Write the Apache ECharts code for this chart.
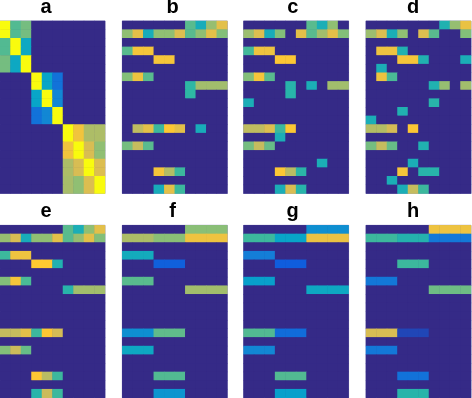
<!DOCTYPE html>
<html><head><meta charset="utf-8">
<style>html,body{margin:0;padding:0;background:#fff}#c{width:472px;height:398px}</style>
<script src="https://cdn.jsdelivr.net/npm/echarts@6/dist/echarts.min.js"></script>
</head><body><div id="c"></div>
<script>
// Each span: [row, first column, column after last, value on a 0..1 colour scale]
const panelNames = ['a','b','c','d','e','f','g','h'];
const panelA = [
 [0,0,1,1],[0,1,2,.55],[0,2,3,.6],[1,0,1,1],[1,1,2,.55],[1,2,3,.6],
 [2,0,1,.55],[2,1,2,1],[2,2,3,.4],[3,0,1,.55],[3,1,2,1],[3,2,3,.4],
 [4,0,1,.6],[4,1,2,.4],[4,2,3,1],[5,0,1,.6],[5,1,2,.4],[5,2,3,1],
 [6,3,4,1],[6,4,5,.38],[6,5,6,.2],[7,3,4,1],[7,4,5,.38],[7,5,6,.2],
 [8,3,4,.38],[8,4,5,1],[8,5,6,.27],[9,3,4,.38],[9,4,5,1],[9,5,6,.27],
 [10,3,4,.2],[10,4,5,.27],[10,5,6,1],[11,3,4,.2],[11,4,5,.27],[11,5,6,1],
 [12,6,7,1],[12,7,8,.84],[12,8,10,.69],[13,6,7,1],[13,7,8,.84],[13,8,10,.69],
 [14,6,7,.84],[14,7,8,1],[14,8,9,.77],[14,9,10,.64],[15,6,7,.84],[15,7,8,1],[15,8,9,.77],[15,9,10,.64],
 [16,6,7,.69],[16,7,8,.77],[16,8,9,1],[16,9,10,.78],[17,6,7,.69],[17,7,8,.77],[17,8,9,1],[17,9,10,.78],
 [18,6,7,.68],[18,7,8,.64],[18,8,9,.78],[18,9,10,1],[19,6,7,.68],[19,7,8,.64],[19,8,9,.78],[19,9,10,1]
];
const panelB = [
 [0,6,7,.56],[0,7,8,.43],[0,8,9,.65],[0,9,10,.8],
 [1,0,1,.64],[1,1,2,.8],[1,2,3,.43],[1,3,5,.64],[1,5,6,.78],[1,6,7,.56],[1,7,8,.64],[1,8,9,.8],[1,9,10,.62],
 [3,0,1,.56],[3,1,3,.85],[4,3,5,.85],
 [6,0,1,.62],[6,1,2,.83],[6,2,3,.56],
 [7,6,7,.5],[7,7,10,.67],[8,6,7,.5],
 [12,1,2,.72],[12,2,3,.8],[12,3,4,.52],[12,4,5,.87],[12,5,6,.8],[12,7,8,.43],
 [14,0,1,.6],[14,1,2,.73],[14,2,3,.56],
 [17,3,4,.85],[17,4,5,.7],[17,5,6,.52],
 [19,3,4,.43],[19,4,5,.8],[19,5,6,.52]
];
const panelC = [
 [0,6,7,.56],[0,7,8,.44],[0,8,9,.64],
 [1,0,1,.66],[1,1,2,.78],[1,2,3,.43],[1,3,4,.62],[1,5,6,.8],[1,6,7,.56],[1,7,8,.67],[1,8,9,.8],[1,9,10,.62],
 [3,0,1,.53],[3,1,3,.83],[4,3,5,.87],
 [6,0,1,.62],[6,1,2,.85],[6,2,3,.56],
 [7,4,5,.48],[7,6,7,.44],[7,8,10,.67],[8,4,5,.48],
 [9,0,1,.44],
 [12,0,2,.72],[12,2,3,.78],[12,3,4,.52],[12,4,5,.87],[13,3,4,.44],
 [14,0,1,.6],[14,1,2,.73],[14,2,3,.58],
 [16,7,8,.44],
 [17,3,4,.87],[17,4,5,.71],[17,5,6,.49],
 [19,3,4,.44],[19,4,5,.77],[19,5,6,.48]
];
const panelD = [
 [0,7,8,.46],[0,8,9,.65],[0,9,10,.82],
 [1,0,1,.66],[1,1,2,.78],[1,2,3,.44],[1,3,4,.64],[1,5,6,.78],[1,6,7,.56],[1,9,10,.62],
 [3,1,3,.83],[3,3,4,.46],[4,3,5,.85],[4,5,6,.46],[4,9,10,.44],
 [5,1,2,.44],[6,1,2,.83],[6,2,3,.54],
 [7,6,7,.46],[7,7,8,.65],[7,9,10,.67],
 [9,6,7,.48],[10,3,4,.46],[11,0,1,.44],
 [12,0,2,.7],[12,2,3,.76],[12,4,5,.87],
 [14,0,1,.6],[14,1,2,.73],[14,2,3,.58],[14,5,6,.46],
 [16,4,5,.44],[17,3,4,.85],[17,5,7,.48],[18,2,3,.44],
 [19,3,4,.44],[19,4,5,.73],[19,5,6,.52]
];
const panelE = [
 [0,6,7,.56],[0,7,8,.44],[0,8,9,.64],[0,9,10,.8],
 [1,0,1,.65],[1,1,2,.77],[1,2,3,.43],[1,3,5,.64],[1,5,6,.8],[1,6,7,.56],[1,7,8,.65],[1,8,9,.8],[1,9,10,.62],
 [3,0,1,.52],[3,1,3,.83],[4,3,5,.88],[4,5,6,.46],
 [6,0,1,.62],[6,1,2,.85],[6,2,3,.54],
 [7,6,7,.48],[7,7,10,.67],
 [12,0,2,.73],[12,2,3,.8],[12,3,4,.52],[12,4,5,.87],[12,5,6,.76],
 [14,0,1,.62],[14,1,2,.74],[14,2,3,.58],
 [17,3,4,.87],[17,4,5,.71],[17,5,6,.52],
 [19,3,4,.48],[19,4,5,.74],[19,5,6,.52]
];
const panelF = [
 [0,6,10,.63],[1,0,3,.69],[1,3,6,.63],[1,6,10,.83],
 [3,0,3,.42],[4,3,6,.14],[6,0,3,.56],[7,6,10,.67],
 [12,0,3,.3],[12,3,6,.57],[14,0,3,.4],[17,3,6,.55],[19,3,6,.32]
];
const panelG = [
 [0,6,10,.3],[1,0,3,.52],[1,3,6,.38],[1,6,10,.82],
 [3,0,3,.24],[4,3,6,.13],[6,0,3,.36],[7,6,10,.4],
 [12,0,3,.55],[12,3,6,.18],[14,0,3,.27],[17,3,6,.55],[19,3,6,.36]
];
const panelH = [
 [0,6,10,.83],[1,0,3,.52],[1,3,6,.47],[1,6,10,.22],
 [4,3,6,.52],[6,0,3,.22],[7,6,10,.59],
 [12,0,3,.77],[12,3,6,.07],[14,0,3,.22],[17,3,6,.2],[19,3,6,.48]
];
const panels = [panelA,panelB,panelC,panelD,panelE,panelF,panelG,panelH];
const rowLabels = Array.from({length:20},(_,i)=>i);
const colLabels = Array.from({length:10},(_,i)=>i);
const parula = ['#352a87','#0f5cdd','#1481d6','#06a4ca','#2eb7a4','#87bf77','#d1bb59','#fec832','#f9fb0e'];

const gridLeft = [0,122.3,243.6,366,0,122.3,243.6,366];
const gridTop = [21,21,21,21,225.3,225.3,225.3,225.3];
const titleX = [46,172.7,292.7,413,46,172.7,292.7,413];
const titleY = [-3,-3,-3,-3,201,201,201,201];
const grids=[],xs=[],ys=[],series=[],titles=[];
panels.forEach((p,i)=>{
  const d=[];
  rowLabels.forEach(r=>colLabels.forEach(c=>{
    let v=0;
    p.forEach(s=>{ if(s[0]===r&&c>=s[1]&&c<s[2]) v=s[3]; });
    d.push([c,r,v]);
  }));
  grids.push({left:gridLeft[i],top:gridTop[i],width:105,height:172.5,show:true,backgroundColor:parula[0],borderColor:'#a5a2cc',borderWidth:1});
  xs.push({type:'category',gridIndex:i,data:colLabels,show:false});
  ys.push({type:'category',gridIndex:i,data:rowLabels,inverse:true,show:false});
  series.push({type:'heatmap',xAxisIndex:i,yAxisIndex:i,data:d,silent:true,progressive:0,animation:false});
  titles.push({text:panelNames[i],left:titleX[i],top:titleY[i],textAlign:'center',padding:0,
    textStyle:{fontFamily:'Liberation Sans',fontWeight:'bold',fontSize:20,color:'#000'}});
});
const chart=echarts.init(document.getElementById('c'),null,{renderer:'canvas'});
chart.setOption({animation:false,title:titles,grid:grids,xAxis:xs,yAxis:ys,series,
  visualMap:{show:false,min:0,max:1,seriesIndex:series.map((_,i)=>i),inRange:{color:parula}}});
</script></body></html>
